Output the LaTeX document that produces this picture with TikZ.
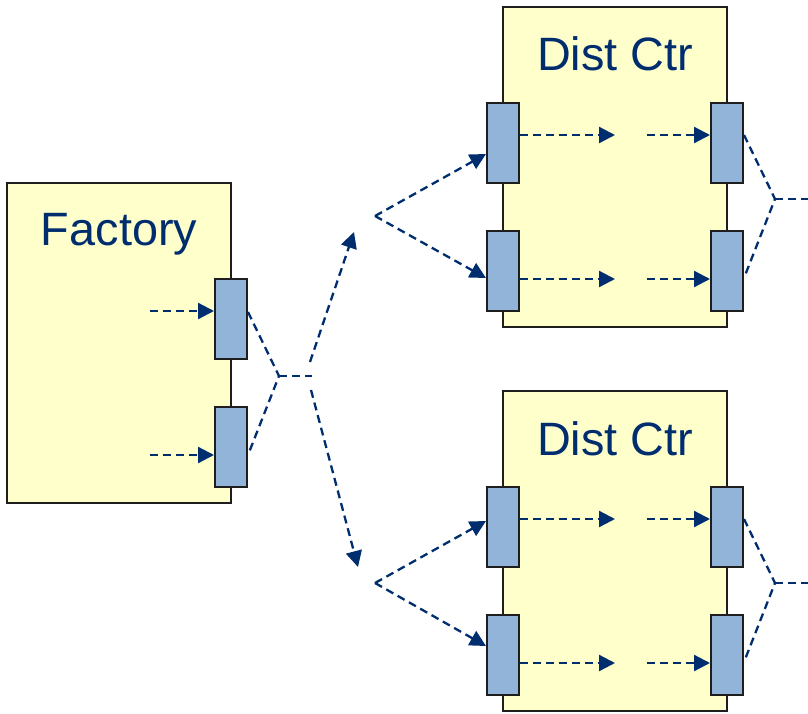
\documentclass[tikz,border=0pt]{standalone}
\usepackage{fontspec}
\setmainfont{Liberation Sans}
\usetikzlibrary{arrows.meta}
\definecolor{boxfill}{RGB}{255,255,204}
\definecolor{portfill}{RGB}{146,180,217}
\definecolor{navy}{RGB}{0,45,110}
\definecolor{edge}{RGB}{30,30,30}
\tikzset{
  bigbox/.style={draw=edge, fill=boxfill, line width=2pt, inner sep=0pt, minimum width=224pt, minimum height=320pt},
  port/.style={draw=edge, fill=portfill, line width=2pt, inner sep=0pt, minimum width=32pt, minimum height=80pt},
  title/.style={text=navy, font=\fontsize{46.8}{50}\selectfont, anchor=base, inner sep=0pt},
  flow/.style={draw=navy, line width=2.3pt, dash pattern=on 8pt off 5pt},
  flowarr/.style={flow, -{Triangle[length=16pt,width=16pt]}},
}
\begin{document}
\begin{tikzpicture}[x=1pt,y=-1pt]
\useasboundingbox (0,0) rectangle (808,714);
% boxes
\node[bigbox] (fac) at (119,343) {};
\node[bigbox] (dcA) at (615,167) {};
\node[bigbox] (dcB) at (615,551) {};
\node[title] (facT) at (119,245) {Factory};
\node[title] (dcAT) at (615,71) {Dist Ctr};
\node[title] (dcBT) at (615,455) {Dist Ctr};
% ports
\node[port] (fp1) at (231,319) {};
\node[port] (fp2) at (231,447) {};
\node[port] (aL1) at (503,143) {};
\node[port] (aL2) at (503,271) {};
\node[port] (aR1) at (727,143) {};
\node[port] (aR2) at (727,271) {};
\node[port] (bL1) at (503,527) {};
\node[port] (bL2) at (503,655) {};
\node[port] (bR1) at (727,527) {};
\node[port] (bR2) at (727,655) {};
% coordinates
\coordinate (fs1) at (150,311);
\coordinate (fs2) at (150,455);
\coordinate (fj) at (279,376);
\coordinate (fjE) at (312,376);
\coordinate (upS) at (310,362);
\coordinate (upT) at (354,232);
\coordinate (dnS) at (311,390);
\coordinate (dnT) at (358,567);
\coordinate (vA) at (375,216);
\coordinate (vB) at (375,583);
\coordinate (aM1T) at (615,135);
\coordinate (aM1S) at (647,135);
\coordinate (aM2T) at (615,279);
\coordinate (aM2S) at (647,279);
\coordinate (bM1T) at (615,519);
\coordinate (bM1S) at (647,519);
\coordinate (bM2T) at (615,663);
\coordinate (bM2S) at (647,663);
\coordinate (aj) at (775,199);
\coordinate (ajE) at (808,199);
\coordinate (bj) at (775,583);
\coordinate (bjE) at (808,583);
% factory flows
\draw[flowarr] (fs1) -- ([yshift=8pt]fp1.west);
\draw[flowarr] (fs2) -- ([yshift=-8pt]fp2.west);
\draw[flow] ([yshift=7pt]fp1.east) -- (fj) -- ([yshift=-8pt]fp2.east);
\draw[flow] (fj) -- (fjE);
\draw[flowarr] (upS) -- (upT);
\draw[flowarr] (dnS) -- (dnT);
% distribution into DCs
\draw[flowarr] (vA) -- ([yshift=-11pt]aL1.west);
\draw[flowarr] (vA) -- ([yshift=-7pt]aL2.west);
\draw[flowarr] (vB) -- ([yshift=6pt]bL1.west);
\draw[flowarr] (vB) -- ([yshift=9pt]bL2.west);
% DC A internal
\draw[flowarr] ([yshift=8pt]aL1.east) -- (aM1T);
\draw[flowarr] (aM1S) -- ([yshift=8pt]aR1.west);
\draw[flowarr] ([yshift=-8pt]aL2.east) -- (aM2T);
\draw[flowarr] (aM2S) -- ([yshift=-8pt]aR2.west);
% DC B internal
\draw[flowarr] ([yshift=8pt]bL1.east) -- (bM1T);
\draw[flowarr] (bM1S) -- ([yshift=8pt]bR1.west);
\draw[flowarr] ([yshift=-8pt]bL2.east) -- (bM2T);
\draw[flowarr] (bM2S) -- ([yshift=-8pt]bR2.west);
% DC outputs
\draw[flow] ([yshift=8pt]aR1.east) -- (aj) -- ([yshift=-7pt]aR2.east);
\draw[flow] (aj) -- (ajE);
\draw[flow] ([yshift=8pt]bR1.east) -- (bj) -- ([yshift=-7pt]bR2.east);
\draw[flow] (bj) -- (bjE);
\end{tikzpicture}
\end{document}
